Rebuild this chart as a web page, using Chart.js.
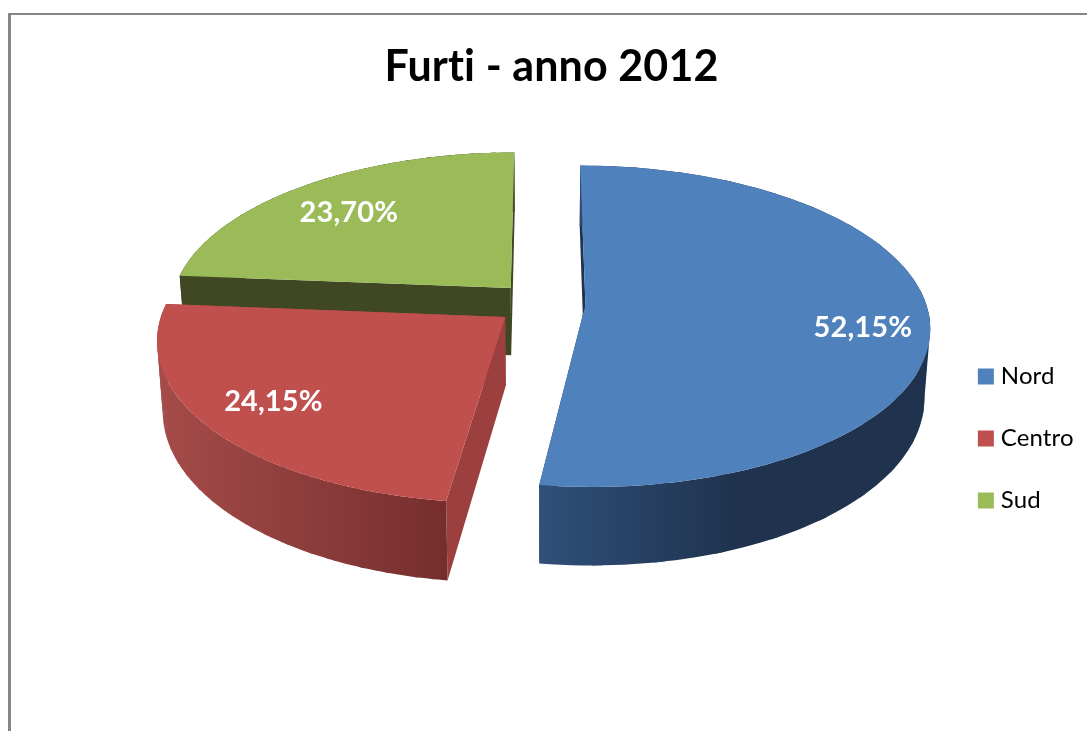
<!DOCTYPE html>
<html><head><meta charset="utf-8">
<style>html,body{margin:0;padding:0;background:#fff}canvas{display:block}</style>
<script src="https://cdn.jsdelivr.net/npm/chart.js@4"></script>
</head><body><canvas id="c" width="1087" height="731"></canvas>
<script>
const categories = ['Nord', 'Centro', 'Sud'];
const values = [52.15, 24.15, 23.70];
const topColors = ['#4f81bd', '#c0504d', '#9bbb59'];
const sideStops = [['#30507a', '#1f334e'], ['#a64c4a', '#752e2d'], ['#3f4822', '#3f4822']];
const cutColors = ['#1f334e', '#9b403f', '#3f4822'];
const explode = [44, 46, 46];

// view of the tilted disc
const cx = 541.5, cy = 303.5, R = 340.5, P = 0.133, A = 158.6 / 343, H = 68, LOWER = 0.985;
function project(u, v, z) {
  const k = 1 / (1 - (v / R) * P);
  const s = z ? LOWER : 1;
  return [cx + u * k * s, cy + v * A * k + (z ? H * k : 0)];
}
function planeOffset(start, end, off) {
  const mid = (start + end) / 2 + Math.PI / 2;
  return [Math.sin(mid) * off, -Math.cos(mid) * off];
}
function rim(a, o, f) {
  const t = a + Math.PI / 2;
  return [o[0] + Math.sin(t) * R * f, o[1] - Math.cos(t) * R * f];
}
function tracePoly(ctx, pts) {
  ctx.beginPath();
  pts.forEach((p, i) => i ? ctx.lineTo(p[0], p[1]) : ctx.moveTo(p[0], p[1]));
  ctx.closePath();
}
Chart.ArcElement.prototype.draw = function (ctx) {
  const start = this.startAngle, end = this.endAngle;
  const i = this.$context.dataIndex;
  const o = planeOffset(start, end, this.options.offset);
  const n = 120, top = [], low = [];
  for (let j = 0; j <= n; j++) {
    const p = rim(start + (end - start) * j / n, o, 1);
    top.push(project(p[0], p[1], false));
    low.push(project(p[0], p[1], true));
  }
  const apexT = project(o[0], o[1], false), apexL = project(o[0], o[1], true);
  ctx.save();
  // radial cut faces
  ctx.fillStyle = cutColors[i];
  tracePoly(ctx, [apexT, top[0], low[0], apexL]); ctx.fill();
  tracePoly(ctx, [apexT, top[n], low[n], apexL]); ctx.fill();
  // outer wall
  const xs = top.map(p => p[0]);
  const grad = ctx.createLinearGradient(Math.min(...xs), 0, Math.max(...xs), 0);
  const stops = sideStops[i];
  if (i === 0) { grad.addColorStop(0, stops[0]); grad.addColorStop(0.5, stops[1]); grad.addColorStop(1, stops[1]); }
  else { grad.addColorStop(0, stops[0]); grad.addColorStop(1, stops[1]); }
  ctx.fillStyle = grad;
  // the wall is filled from a few overlapping strips so no seams appear
  const step = 6;
  for (let j = 0; j < n; j += step) {
    const e = Math.min(j + step + 1, n);
    tracePoly(ctx, top.slice(j, e + 1).concat(low.slice(j, e + 1).reverse()));
    ctx.fill();
  }
  // top face
  ctx.fillStyle = this.options.backgroundColor;
  tracePoly(ctx, [apexT].concat(top)); ctx.fill();
  ctx.restore();
};
// back slices first, so nearer ones cover them
Chart.PieController.prototype.draw = function () {
  const ctx = this._ctx, els = this._cachedMeta.data;
  for (let i = els.length - 1; i >= 0; i--) els[i].draw(ctx);
};

const labelNudge = [[3, 14], [1, -2], [5, 8]];
const frameAndLabels = {
  id: 'frameAndLabels',
  afterLayout(chart) {
    chart.legend.top += 73;
    chart.legend.bottom += 73;
  },
  beforeDraw(chart) {
    const c = chart.ctx;
    c.letterSpacing = '0.1px';
    c.save();
    c.fillStyle = '#868686';
    c.fillRect(8, 13, 1079, 2);
    c.fillRect(8, 13, 3, 718);
    c.restore();
  },
  afterDatasetsDraw(chart) {
    const c = chart.ctx, els = chart.getDatasetMeta(0).data;
    c.save();
    c.font = 'bold 29px Lato';
    c.fillStyle = '#fff';
    c.textAlign = 'center';
    c.textBaseline = 'middle';
    els.forEach((el, i) => {
      const o = planeOffset(el.startAngle, el.endAngle, el.options.offset);
      const p = rim((el.startAngle + el.endAngle) / 2, o, 0.8);
      const s = project(p[0], p[1], false);
      const txt = values[i].toFixed(2).replace('.', ',') + '%';
      c.fillText(txt, s[0] + labelNudge[i][0], s[1] + labelNudge[i][1]);
    });
    c.restore();
  }
};

new Chart(document.getElementById('c'), {
  type: 'pie',
  data: {
    labels: categories,
    datasets: [{ data: values, backgroundColor: topColors, borderColor: topColors, borderWidth: 10, offset: explode }]
  },
  options: {
    responsive: false,
    animation: false,
    layout: { padding: { left: 20, right: 4 } },
    plugins: {
      title: {
        display: true,
        text: 'Furti - anno 2012',
        color: '#000',
        font: { family: 'Lato', size: 43, weight: 'bold', lineHeight: 1.2 },
        padding: { top: 41, bottom: 54 }
      },
      legend: {
        position: 'right',
        labels: {
          color: '#000',
          font: { family: 'Lato', size: 24 },
          boxWidth: 6, boxHeight: 6, padding: 38
        }
      },
      tooltip: { enabled: false }
    }
  },
  plugins: [frameAndLabels]
});
</script></body></html>
